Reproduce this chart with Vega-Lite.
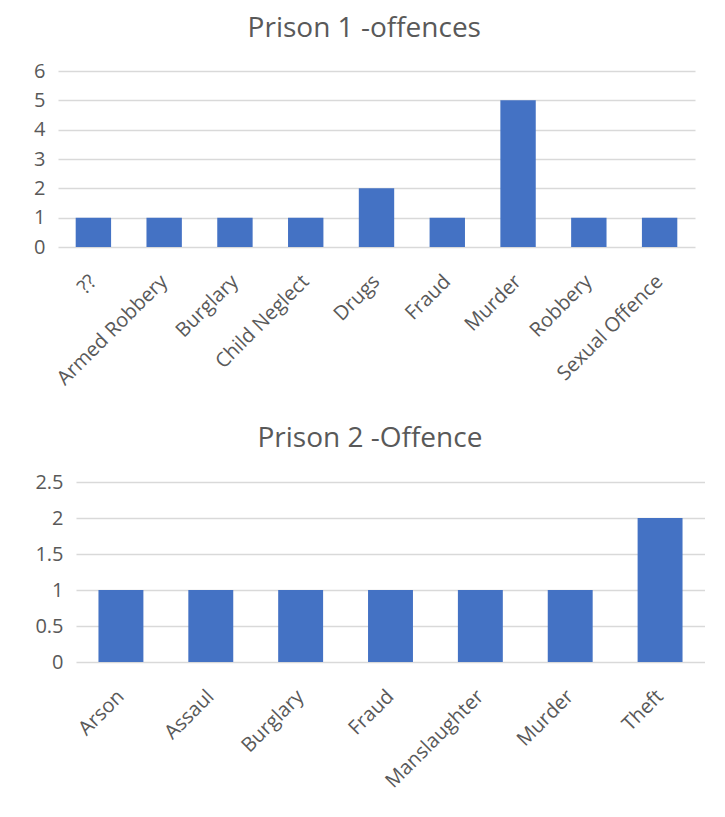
{
  "$schema": "https://vega.github.io/schema/vega-lite/v6.json",
  "background": "white",
  "padding": {"left": 33, "top": 15, "right": 0, "bottom": 0},
  "spacing": 36,
  "config": {
    "view": {"stroke": null},
    "font": "Open Sans",
    "axis": {
      "labelFont": "Open Sans",
      "labelFontSize": 20,
      "labelColor": "#595959",
      "domain": false,
      "ticks": false,
      "title": null
    },
    "title": {"font": "Open Sans", "fontSize": 28, "fontWeight": "normal", "color": "#595959", "anchor": "middle", "frame": "bounds"}
  },
  "vconcat": [
    {
      "title": {"text": "Prison 1 -offences", "offset": 18},
      "width": 637,
      "height": 176,
      "data": {"values": [
        {"offence": "??", "count": 1},
        {"offence": "Armed Robbery", "count": 1},
        {"offence": "Burglary", "count": 1},
        {"offence": "Child Neglect", "count": 1},
        {"offence": "Drugs", "count": 2},
        {"offence": "Fraud", "count": 1},
        {"offence": "Murder", "count": 5},
        {"offence": "Robbery", "count": 1},
        {"offence": "Sexual Offence", "count": 1}
      ]},
      "mark": {"type": "bar", "color": "#4472C4"},
      "encoding": {
        "x": {"field": "offence", "type": "nominal", "sort": null,
          "scale": {"paddingInner": 0.5, "paddingOuter": 0.25},
          "axis": {"labelAngle": -45, "labelPadding": 24, "labelOffset": -7, "grid": false}},
        "y": {"field": "count", "type": "quantitative",
          "scale": {"domain": [0, 6], "nice": false},
          "axis": {"values": [0, 1, 2, 3, 4, 5, 6], "labelPadding": 13, "grid": true, "gridColor": "#d9d9d9", "gridWidth": 1.3, "format": "~g"}}
      }
    },
    {
      "bounds": "flush",
      "spacing": 0,
      "hconcat": [
        {
          "width": 18,
          "height": 1,
          "data": {"values": []},
          "mark": {"type": "point", "opacity": 0}
        },
        {
          "title": {"text": "Prison 2 -Offence", "offset": 19},
          "width": 629,
          "height": 180,
          "data": {"values": [
            {"offence": "Arson", "count": 1},
            {"offence": "Assaul", "count": 1},
            {"offence": "Burglary", "count": 1},
            {"offence": "Fraud", "count": 1},
            {"offence": "Manslaughter", "count": 1},
            {"offence": "Murder", "count": 1},
            {"offence": "Theft", "count": 2}
          ]},
          "mark": {"type": "bar", "color": "#4472C4"},
          "encoding": {
            "x": {"field": "offence", "type": "nominal", "sort": null,
              "scale": {"paddingInner": 0.5, "paddingOuter": 0.25},
              "axis": {"labelAngle": -45, "labelPadding": 24, "labelOffset": -7, "grid": false}},
            "y": {"field": "count", "type": "quantitative",
              "scale": {"domain": [0, 2.5], "nice": false},
              "axis": {"values": [0, 0.5, 1, 1.5, 2, 2.5], "labelPadding": 13, "grid": true, "gridColor": "#d9d9d9", "gridWidth": 1.3, "format": "~g"}}
          }
        }
      ]
    }
  ]
}
